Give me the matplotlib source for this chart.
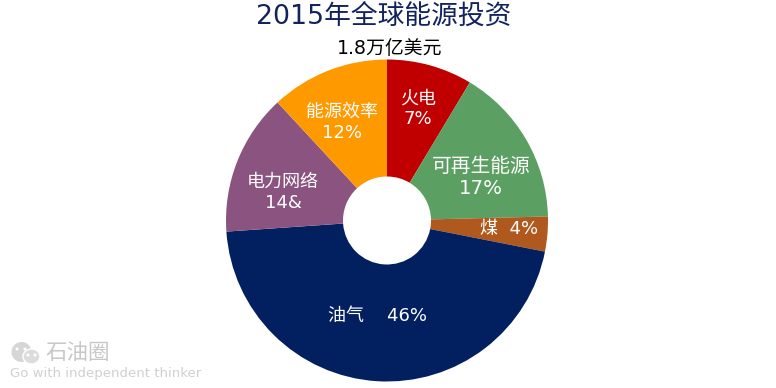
import matplotlib
matplotlib.use("Agg")
import matplotlib.pyplot as plt
from matplotlib.patches import Ellipse

plt.rcParams['font.family'] = ['DejaVu Sans', 'Noto Sans CJK SC']

labels = ['火电\n7%', '可再生能源\n17%', '煤  4%', '油气    46%', '电力网络\n14&', '能源效率\n12%']
# доли секторов как они нарисованы на картинке (не совпадают с подписями)
shares = [8.6, 16.0, 3.5, 45.8, 14.2, 11.9]
colors = ['#c00000', '#5b9f62', '#b0591f', '#02205f', '#8b5380', '#ff9900']

W, H = 776, 388
fig = plt.figure(figsize=(W / 100, H / 100), dpi=100)
# круг: центр (387, 220.5), радиус 161
ax = fig.add_axes([(387 - 161) / W, 1 - (220.5 + 161) / H, 322 / W, 322 / H])
wedges, texts = ax.pie(shares, colors=colors, startangle=90, counterclock=False, radius=1,
                       wedgeprops=dict(width=1 - 44 / 161, edgecolor='none'))
ax.set_xlim(-1, 1)
ax.set_ylim(-1, 1)

# подписи секторов
label_pos = [(0.19, 0.695), (0.585, 0.268), (0.76, -0.052), (-0.06, -0.592), (-0.645, 0.175), (-0.28, 0.608)]
label_size = [13, 14.2, 13, 13, 13, 13]
for lab, p, s in zip(labels, label_pos, label_size):
    ax.text(p[0], p[1], lab, color='white', fontsize=s, ha='center', va='center', linespacing=1.2)

fig.text(383.5 / W, 1 - 17 / H, '2015年全球能源投资', color='#12235f', fontsize=19.25, ha='center', va='center')
fig.text(389.5 / W, 1 - 48 / H, '1.8万亿美元', color='black', fontsize=13.6, ha='center', va='center')

# водяной знак
bg = fig.add_axes([0, 0, 1, 1], zorder=-1)
bg.set_xlim(0, W)
bg.set_ylim(H, 0)
bg.axis('off')
bg.add_patch(Ellipse((21.5, 352), 20, 20, fc='#d6d6d6', ec='none'))
bg.add_patch(Ellipse((31.5, 356.5), 17, 15, fc='#dcdcdc', ec='white', lw=1))
for x, y in [(17, 349), (25, 349), (28, 355), (35, 355)]:
    bg.add_patch(Ellipse((x, y), 3, 3, fc='white', ec='none'))
fig.text(45 / W, 1 - 353 / H, '石油圈', color='#c8c8c8', fontsize=15.5, ha='left', va='center')
fig.text(10 / W, 1 - 374 / H, 'Go with independent thinker', color='#d0d0d0', fontsize=9.5, ha='left', va='center')

fig.savefig('out.png', dpi=100)
